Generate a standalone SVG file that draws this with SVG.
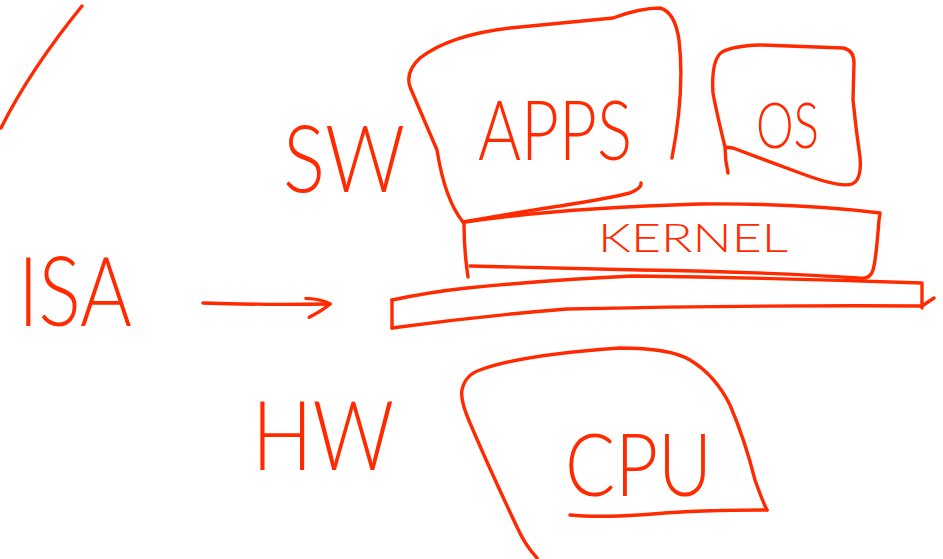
<svg xmlns="http://www.w3.org/2000/svg" width="943" height="559" viewBox="0 0 943 559">
  <style>
    .ink { fill: none; stroke: #ff2a00; stroke-width: 3.4; stroke-linecap: round; stroke-linejoin: round; }
    .lbl { fill: #ff2a00; font-family: "Lato", "Open Sans", "Liberation Sans", sans-serif; font-weight: 300; }
  </style>
  <defs>
    <marker id="chevron" viewBox="0 0 30 24" refX="27" refY="8" markerWidth="30" markerHeight="24" markerUnits="userSpaceOnUse" orient="auto">
      <path class="ink" d="M3,2 Q20,3 27,8 Q20,14 6,21"/>
    </marker>
  </defs>
  <rect width="943" height="559" fill="#ffffff"/>

  <!-- stray stroke, top left -->
  <path class="ink" d="M82,6 Q30,70 1,128"/>

  <!-- side labels -->
  <g id="sw">
    <text class="lbl" x="283" y="192" font-size="92" textLength="122" lengthAdjust="spacingAndGlyphs">SW</text>
  </g>
  <g id="isa">
    <text class="lbl" x="18" y="326" font-size="96" textLength="114" lengthAdjust="spacingAndGlyphs">ISA</text>
  </g>
  <g id="hw">
    <text class="lbl" x="252" y="470" font-size="96" textLength="142" lengthAdjust="spacingAndGlyphs">HW</text>
  </g>

  <!-- applications -->
  <g id="apps">
    <path class="ink" d="M463,222 Q445,200 437,150 Q420,110 410,87 Q405,72 420,58 Q450,35 510,28 L613,18 Q640,8 660,8 Q675,12 679,40 Q685,90 672,158"/>
    <path class="ink" d="M463,222 Q520,212 560,206 Q610,198 630,193 Q642,188 641,183"/>
    <text class="lbl" x="478" y="160" font-size="82" textLength="154" lengthAdjust="spacingAndGlyphs">APPS</text>
  </g>

  <!-- operating system -->
  <g id="os">
    <path class="ink" d="M728,173 Q725,160 725,147 Q716,110 713,93 Q711,60 722,52 Q733,46 760,45 L843,48 Q854,50 854,63 L853,100 Q856,130 860,157 Q862,180 852,184 Q840,188 800,173 L733,148 L725,147"/>
    <text class="lbl" x="756" y="148" font-size="64" textLength="63" lengthAdjust="spacingAndGlyphs">OS</text>
  </g>

  <!-- kernel layer -->
  <g id="kernel">
    <path class="ink" d="M465,222 Q560,208 700,204 Q800,203 880,213 L879,220 Q876,260 873,270 Q870,280 858,278 Q770,272 640,270 L470,266"/>
    <path class="ink" d="M464,224 Q464,250 468,277"/>
    <text class="lbl" x="598" y="252" font-size="40" textLength="190" lengthAdjust="spacingAndGlyphs">KERNEL</text>
  </g>

  <!-- ISA boundary bar -->
  <g id="isa-bar">
    <path class="ink" d="M392,300 Q430,292 467,288 Q560,279 633,276 Q780,278 922,283 L922,308"/>
    <path class="ink" d="M392,300 L392,328"/>
    <path class="ink" d="M392,328 Q480,316 567,309 Q750,305 922,306 L934,298"/>
  </g>

  <!-- processor -->
  <g id="cpu">
    <path class="ink" d="M537,558 Q525,545 517,527 Q490,470 470,423 Q460,400 462,390 Q465,375 480,370 Q520,355 620,348 Q670,348 690,360 Q715,375 730,405 Q745,440 755,480 Q762,500 767,510"/>
    <path class="ink" d="M767,510 Q700,510 653,514 Q600,518 570,515"/>
    <text class="lbl" x="565" y="496" font-size="86" textLength="147" lengthAdjust="spacingAndGlyphs">CPU</text>
  </g>

  <!-- connectors -->
  <g id="connectors">
    <path class="ink" d="M203,303 Q260,305 330,304" marker-end="url(#chevron)"/>
  </g>
</svg>
